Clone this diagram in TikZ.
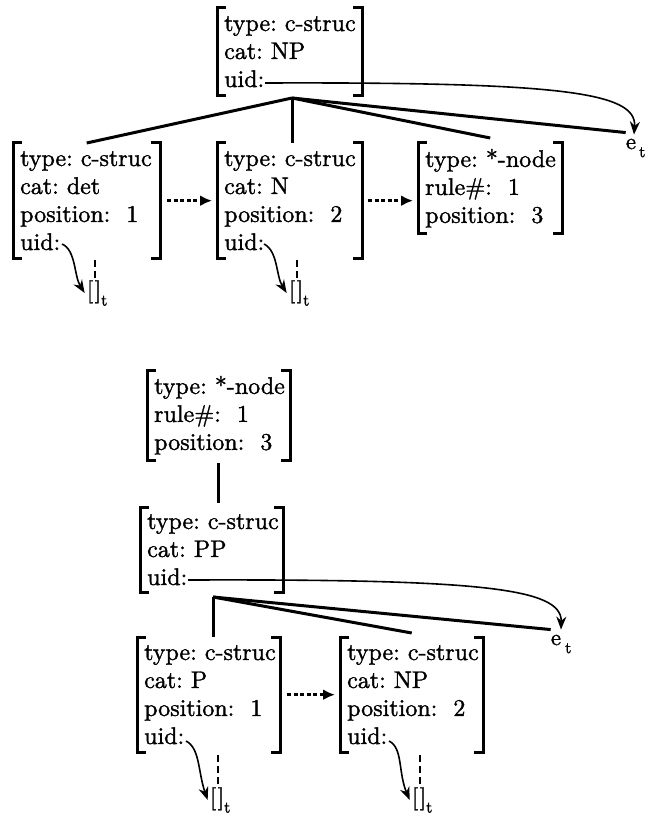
\documentclass[tikz,border=0pt]{standalone}
\usepackage{fontspec}
\usetikzlibrary{arrows.meta}
\newfontfamily\boxfont[FakeBold=1.4]{lmroman10-regular.otf}
\begin{document}
\begin{tikzpicture}[x=1pt,y=-1pt,
 box/.style={draw=none, inner xsep=7pt, inner ysep=0pt, anchor=north west, align=left,
   font=\boxfont\fontsize{24}{28}\selectfont,
   execute at begin node={\frenchspacing\hyphenpenalty=10000\exhyphenpenalty=10000\hbadness=10000\hfuzz=20pt}},
 brk/.style={line width=3pt, line join=miter, line cap=butt},
 tree/.style={line width=3pt},
 uidarrow/.style={line width=1.6pt, -{Stealth[length=13pt,width=10pt]}},
 curly/.style={line width=1.6pt, -{Stealth[length=13pt,width=10pt]}},
 dotarrow/.style={line width=3pt, dash pattern=on 4pt off 2.5pt, -{Latex[length=12pt,width=11pt]}},
 dashv/.style={line width=2.5pt, dash pattern=on 7pt off 4pt},
 lab/.style={inner sep=0pt, font=\boxfont\fontsize{23}{23}\selectfont},
]
\useasboundingbox (0,0) rectangle (648,818);

% ---------- boxes ----------
\node[box, text width=131pt, minimum height=87pt] (np1) at (217,8) {type:~c-struc\\cat:~NP\\uid:};
\node[box, text width=133pt, minimum height=115pt] (det) at (13,143) {type:~c-struc\\cat:~det\\position:~~1\\uid:};
\node[box, text width=131pt, minimum height=115pt] (n) at (217,143) {type:~c-struc\\cat:~N\\position:~~2\\uid:};
\node[box, text width=130pt, minimum height=90pt] (star1) at (418,143) {type:~*-node\\rule\#:~~1\\position:~~3};

\node[box, text width=129pt, minimum height=90pt] (star2) at (147,370) {type:~*-node\\rule\#:~~1\\position:~~3};
\node[box, text width=129pt, minimum height=85pt] (pp) at (140,507) {type:~c-struc\\cat:~PP\\uid:};
\node[box, text width=129pt, minimum height=115pt] (p) at (137,637) {type:~c-struc\\cat:~P\\position:~~1\\uid:};
\node[box, text width=129pt, minimum height=115pt] (np2) at (340,637) {type:~c-struc\\cat:~NP\\position:~~2\\uid:};

\foreach \b in {np1,det,n,star1,star2,pp,p,np2} {
  \draw[brk] ([xshift=9pt]\b.north west) -- (\b.north west) -- (\b.south west) -- ([xshift=9pt]\b.south west);
  \draw[brk] ([xshift=-9pt]\b.north east) -- (\b.north east) -- (\b.south east) -- ([xshift=-9pt]\b.south east);
}

% ---------- labels ----------
\node[lab] (et1) at (631,148) {e\rlap{\hspace{3pt}\raisebox{-8pt}{\fontsize{16}{16}\selectfont t}}};
\node[lab] (et2) at (556,644) {e\rlap{\hspace{4pt}\raisebox{-8pt}{\fontsize{16}{16}\selectfont t}}};
\node[lab] (bt1) at (94,293) {[\kern1.5pt]\rlap{\raisebox{-8pt}{\fontsize{16}{16}\selectfont t}}};
\node[lab] (bt2) at (296,293) {[\kern1.5pt]\rlap{\raisebox{-8pt}{\fontsize{16}{16}\selectfont t}}};
\node[lab] (bt3) at (217,800) {[\kern1.5pt]\rlap{\raisebox{-8pt}{\fontsize{16}{16}\selectfont t}}};
\node[lab] (bt4) at (419,800) {[\kern1.5pt]\rlap{\raisebox{-8pt}{\fontsize{16}{16}\selectfont t}}};

% ---------- coordinates ----------
\coordinate (ap1) at (292,98);
\coordinate (ap2) at (213,597);
\coordinate (np1uid) at (265,83);
\coordinate (ppuid) at (188,580);
\coordinate (c1) at (62,244);
\coordinate (c2) at (264,244);
\coordinate (c3) at (186,741);
\coordinate (c4) at (389,741);
\coordinate (d1) at (95,260);
\coordinate (d2) at (297,260);
\coordinate (d3) at (218,755);
\coordinate (d4) at (420,755);

% ---------- tree 1 ----------
\draw[tree] (ap1) -- (det.north);
\draw[tree] (ap1) -- (ap1 |- n.north);
\draw[tree] (ap1) -- ([yshift=5pt]star1.north);
\draw[tree] (ap1) -- ([yshift=6pt]et1.north west);
\draw[uidarrow] (np1uid) .. controls (560,82) and (637,92) .. ([xshift=3pt,yshift=4pt]et1.north);

\draw[dotarrow] ([xshift=7pt]det.east) -- ([xshift=-5pt]n.west);
\draw[dotarrow] ([xshift=6pt]n.east) -- ([xshift=-5pt]n.east -| star1.west);

\draw[curly] (c1) .. controls (76,250) and (74,276) .. ([xshift=-2pt]bt1.west);
\draw[dashv] (d1) -- (d1 |- bt1.north);
\draw[curly] (c2) .. controls (278,251) and (276,276) .. ([xshift=-2pt]bt2.west);
\draw[dashv] (d2) -- (d2 |- bt2.north);

% ---------- tree 2 ----------
\draw[tree] ([yshift=-3pt]star2.south) -- ([yshift=4pt]star2.south |- pp.north);
\draw[tree] (ap2) -- (ap2 |- p.north);
\draw[tree] (ap2) -- ([yshift=4pt]np2.north);
\draw[tree] (ap2) -- ([yshift=5pt]et2.north west);
\draw[uidarrow] (ppuid) .. controls (480,579) and (562,588) .. ([xshift=5pt,yshift=5pt]et2.north);

\draw[dotarrow] ([xshift=7pt]p.east) -- ([xshift=-5pt]np2.west);

\draw[curly] (c3) .. controls (200,748) and (198,772) .. ([xshift=-2pt]bt3.west);
\draw[dashv] (d3) -- (d3 |- bt3.north);
\draw[curly] (c4) .. controls (403,748) and (398,772) .. ([xshift=-2pt]bt4.west);
\draw[dashv] (d4) -- (d4 |- bt4.north);
\end{tikzpicture}
\end{document}
